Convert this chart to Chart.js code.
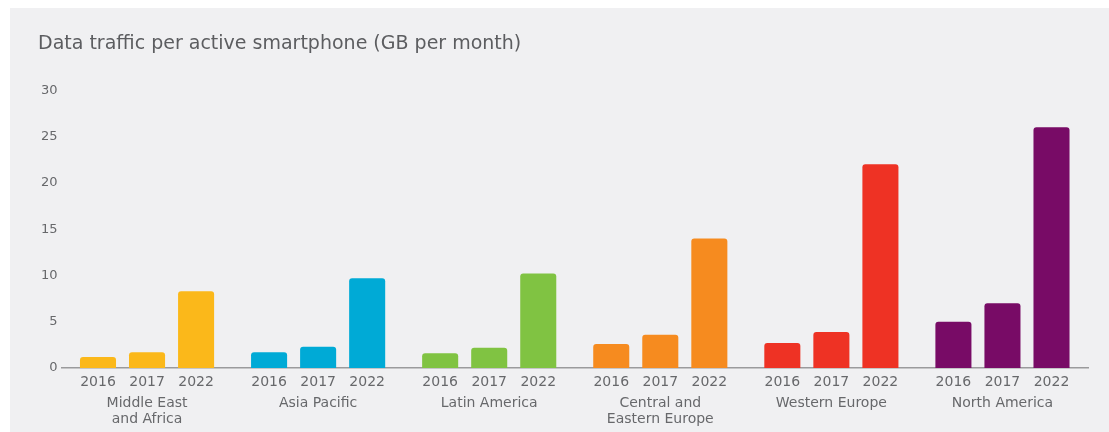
<!DOCTYPE html>
<html>
<head>
<meta charset="utf-8">
<script src="https://cdn.jsdelivr.net/npm/chart.js@4/dist/chart.umd.min.js"></script>
<style>
  html, body { margin: 0; padding: 0; background: #ffffff; }
  #panel { position: absolute; left: 10px; top: 8px; width: 1099px; height: 424px; background: #f0f0f2; }
</style>
</head>
<body>
<div id="panel"><canvas id="chart" width="1099" height="424"></canvas></div>
<script>
// Chart data
const regions = [['Middle East', 'and Africa'], 'Asia Pacific', 'Latin America', ['Central and', 'Eastern Europe'], 'Western Europe', 'North America'];
const years = ['2016', '2017', '2022'];
const values2016 = [1.2, 1.7, 1.6, 2.6, 2.7, 5.0];
const values2017 = [1.7, 2.3, 2.2, 3.6, 3.9, 7.0];
const values2022 = [8.3, 9.7, 10.2, 14, 22, 26];
const yTicks = [0, 5, 10, 15, 20, 25, 30];

const regionColors = ['#fbb81a', '#00aad6', '#80c342', '#f68b1f', '#ee3224', '#780b66'];
const textColor = '#67686b';
const fontFamily = '"DejaVu Sans", sans-serif';

// Draw the year under each bar
const yearLabels = {
    id: 'yearLabels',
    afterDraw(chart) {
        const ctx = chart.ctx;
        ctx.save();
        ctx.font = '14px ' + fontFamily;
        ctx.fillStyle = textColor;
        ctx.textAlign = 'center';
        ctx.textBaseline = 'middle';
        chart.data.datasets.forEach((ds, i) => {
            chart.getDatasetMeta(i).data.forEach(bar => {
                ctx.fillText(ds.label, bar.x, chart.chartArea.bottom + 14);
            });
        });
        ctx.restore();
    }
};

const ctx = document.getElementById('chart').getContext('2d');
new Chart(ctx, {
    type: 'bar',
    data: {
        labels: regions,
        datasets: [
            { label: years[0], data: values2016, backgroundColor: regionColors },
            { label: years[1], data: values2017, backgroundColor: regionColors },
            { label: years[2], data: values2022, backgroundColor: regionColors }
        ]
    },
    options: {
        responsive: false,
        animation: false,
        categoryPercentage: 0.86,
        barPercentage: 0.735,
        borderRadius: 3,
        borderSkipped: 'bottom',
        layout: { padding: { left: 28, right: 21, top: 0, bottom: 0 } },
        scales: {
            x: {
                grid: { display: false },
                border: { display: true, color: '#9a9a9c', width: 1.5 },
                ticks: {
                    color: textColor,
                    padding: 19,
                    maxRotation: 0,
                    autoSkip: false,
                    font: { family: fontFamily, size: 14, lineHeight: 1.15 }
                },
                afterFit: (scale) => { scale.height = 64; }
            },
            y: {
                min: 0,
                max: 30,
                grid: { display: false, drawTicks: false },
                border: { display: false },
                afterBuildTicks: (scale) => { scale.ticks = yTicks.map(v => ({ value: v })); },
                ticks: {
                    color: textColor,
                    padding: 4,
                    font: { family: fontFamily, size: 13 }
                },
                afterFit: (scale) => { scale.width = 23.5; }
            }
        },
        plugins: {
            legend: { display: false },
            tooltip: { enabled: false },
            title: {
                display: true,
                text: 'Data traffic per active smartphone (GB per month)',
                align: 'start',
                color: '#5c5d60',
                font: { family: fontFamily, size: 19, weight: 'normal' },
                padding: { top: 24.5, bottom: 35 }
            }
        }
    },
    plugins: [yearLabels]
});
</script>
</body>
</html>
